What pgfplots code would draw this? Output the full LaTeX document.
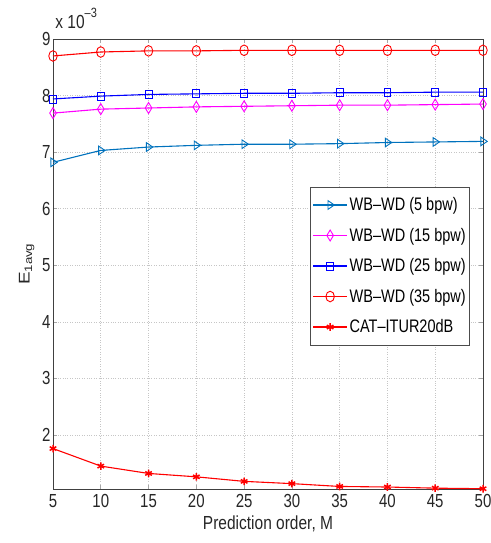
\documentclass[border=0pt]{standalone}
\usepackage{pgfplots}
\pgfplotsset{compat=1.18}
\usepackage{fontspec}
\setmainfont{Liberation Sans}

\definecolor{cA}{RGB}{0,114,189}
\definecolor{cB}{RGB}{255,0,255}
\definecolor{cC}{RGB}{0,0,255}
\definecolor{cD}{RGB}{255,0,0}

\begin{document}
\begin{tikzpicture}
% fixed page frame around the 430pt x 450pt axis box
\useasboundingbox (-53pt,-54pt) rectangle (437pt,489pt);
\begin{axis}[
  at={(0pt,0pt)}, anchor=south west,
  scale only axis,
  width=430pt, height=450pt,
  xmin=5, xmax=50, ymin=1.045, ymax=9,
  xtick={5,10,...,50},
  ytick={2,3,...,9},
  tick align=inside,
  major tick length=4pt,
  tick style={gray!70, line width=0.6pt},
  axis line style={black!75, line width=0.8pt},
  grid=major,
  major grid style={gray!45, dotted, line width=0.6pt},
  /pgf/number format/assume math mode=true,
  tick label style={font=\fontsize{15}{18}\selectfont, yscale=1.26, text=black!85},
  xticklabel style={yshift=-1pt},
  yticklabel style={xshift=1pt},
  xlabel={Prediction order, M},
  ylabel={E\textsubscript{1avg}},
  label style={font=\fontsize{15.5}{18}\selectfont, text=black!85},
  xlabel style={yscale=1.22, yshift=1pt},
  ylabel style={xscale=1.22, yshift=1pt},
  legend style={at={(0.97,0.672)}, anchor=north east,
    draw=black!70, line width=0.8pt,
    font=\fontsize{14.5}{17}\selectfont,
    nodes={yscale=1.25},
    row sep=10.5pt, inner xsep=2pt, inner ysep=8pt},
  legend cell align=left,
  legend image code/.code={%
    \draw[mark repeat=2, mark phase=2, #1]
      plot coordinates {(0pt,0pt) (17pt,0pt) (34pt,0pt)};},
  every axis plot/.append style={line width=1.1pt},
  mark size=5pt,
  clip=false,
]
\addplot[cA, mark=triangle, mark options={rotate=-90, yscale=0.85, solid, line width=0.9pt}] coordinates {
 (5,6.82) (10,7.03) (15,7.09) (20,7.12) (25,7.14) (30,7.14) (35,7.15) (40,7.17) (45,7.18) (50,7.19)};
\addlegendentry{WB--WD (5 bpw)}
\addplot[cB, mark=diamond, mark size=5.5pt, mark options={xscale=0.8, solid, line width=0.9pt}] coordinates {
 (5,7.69) (10,7.76) (15,7.78) (20,7.80) (25,7.81) (30,7.82) (35,7.83) (40,7.83) (45,7.84) (50,7.85)};
\addlegendentry{WB--WD (15 bpw)}
\addplot[cC, mark=square, mark size=4pt, mark options={xscale=0.85, solid, line width=0.9pt}] coordinates {
 (5,7.94) (10,7.99) (15,8.02) (20,8.03) (25,8.04) (30,8.04) (35,8.05) (40,8.05) (45,8.06) (50,8.06)};
\addlegendentry{WB--WD (25 bpw)}
\addplot[cD, mark=o, mark size=5.3pt, mark options={solid, line width=0.9pt, xscale=0.8}] coordinates {
 (5,8.70) (10,8.77) (15,8.79) (20,8.79) (25,8.80) (30,8.80) (35,8.80) (40,8.80) (45,8.80) (50,8.80)};
\addlegendentry{WB--WD (35 bpw)}
\addplot[cD, mark=asterisk, mark size=3.8pt, mark options={solid, line width=1.5pt}] coordinates {
 (5,1.76) (10,1.45) (15,1.32) (20,1.26) (25,1.18) (30,1.14) (35,1.09) (40,1.08) (45,1.06) (50,1.05)};
\addlegendentry{CAT--ITUR20dB}
\node[anchor=south west, inner sep=0pt, font=\fontsize{15.5}{18}\selectfont, yscale=1.22, text=black!85]
  at (rel axis cs:0.005,1.022) {x 10\raisebox{1.1ex}{\fontsize{11}{12}\selectfont --3}};
\end{axis}
\end{tikzpicture}
\end{document}
